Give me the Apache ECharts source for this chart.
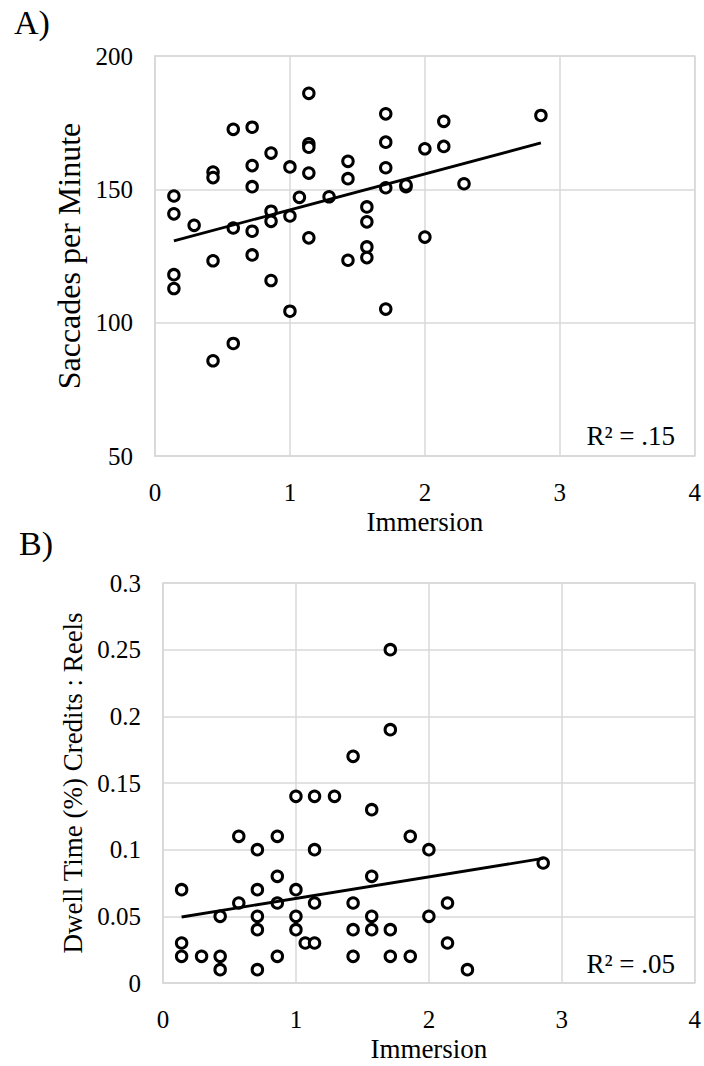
<!DOCTYPE html>
<html lang="en">
  <head>
    <meta charset="UTF-8" />
    <title>Immersion scatter plots</title>
    <script src="https://cdn.jsdelivr.net/npm/echarts@6/dist/echarts.min.js"></script>
    <style>
      body { margin: 0; background: #fff; }
    </style>
  </head>
  <body>
    <div id="main" style="width: 704px; height: 1066px"></div>
    <script type="text/javascript">
      // Panel A: immersion vs saccades per minute
      const immersionA = [
        1.14, 0.58, 0.72, 1.14, 1.14, 0.86, 0.72, 1.0, 1.14, 0.43, 0.43, 0.72, 0.14,
        1.07, 1.29, 0.14, 0.86, 0.86, 1.0, 0.29, 0.58, 0.72, 1.14, 0.43, 0.72, 0.14,
        0.14, 0.86, 1.0, 0.58, 0.43, 1.71, 2.14, 2.86, 1.71, 2.0, 2.14, 1.43, 1.43,
        1.71, 1.71, 1.86, 1.86, 2.29, 1.57, 1.57, 1.57, 1.57, 1.43, 2.0, 1.71
      ];
      const saccades = [
        186, 172.5, 173.3, 167.1, 165.8, 163.6, 158.9, 158.4, 156.1, 156.5, 154.4, 151,
        147.5, 147, 147.2, 140.8, 141.8, 138, 140, 136.5, 135.5, 134.3, 131.8, 123.2,
        125.4, 118, 112.8, 115.8, 104.3, 92.2, 85.7, 178.3, 175.5, 177.7, 167.7, 165.2,
        166.1, 160.5, 154, 158.1, 150.6, 151, 151.6, 152.1, 143.4, 137.8, 128.4, 124.4,
        123.4, 132.1, 105.1
      ];
      const trendA = [[0.14, 130.7], [2.86, 167.4]];

      // Panel B: immersion vs dwell time on credits : reels
      const immersionB = [
        1.0, 1.14, 1.29, 0.57, 0.86, 0.71, 1.14, 0.86, 0.14, 0.71, 1.0, 0.57, 0.86,
        1.14, 0.43, 0.71, 1.0, 0.71, 1.0, 1.07, 1.14, 0.14, 0.14, 0.29, 0.43, 0.86,
        0.43, 0.71, 1.71, 1.71, 1.43, 1.57, 1.86, 2.0, 2.86, 1.57, 1.43, 2.14, 1.57,
        2.0, 1.43, 1.57, 1.71, 2.14, 1.43, 1.71, 1.86, 2.29
      ];
      const dwellTime = [
        0.14, 0.14, 0.14, 0.11, 0.11, 0.1, 0.1, 0.08, 0.07, 0.07, 0.07, 0.06, 0.06,
        0.06, 0.05, 0.05, 0.05, 0.04, 0.04, 0.03, 0.03, 0.03, 0.02, 0.02, 0.02, 0.02,
        0.01, 0.01, 0.25, 0.19, 0.17, 0.13, 0.11, 0.1, 0.09, 0.08, 0.06, 0.06, 0.05,
        0.05, 0.04, 0.04, 0.04, 0.03, 0.02, 0.02, 0.02, 0.01
      ];
      const trendB = [[0.14, 0.0495], [2.86, 0.0935]];

      const panelLabels = ["A)", "B)"];
      const r2Labels = ["R\u00b2 = .15", "R\u00b2 = .05"];

      const font = "Liberation Serif";
      const gridColor = "#d9d9d9";
      const zip = (xs, ys) => xs.map((x, i) => [x, ys[i]]);

      let myChart = echarts.init(document.getElementById("main"), null, { renderer: "svg" });

      function xAxisFor(gridIndex) {
        return {
          gridIndex: gridIndex,
          type: "value",
          min: 0,
          max: 4,
          interval: 1,
          name: "Immersion",
          nameLocation: "middle",
          nameGap: 52,
          nameTextStyle: { fontFamily: font, fontSize: 27, color: "#000" },
          axisLine: { lineStyle: { color: gridColor, width: 1.5 } },
          axisTick: { show: false },
          axisLabel: { fontFamily: font, fontSize: 25, color: "#000", margin: 24 },
          splitLine: { lineStyle: { color: gridColor, width: 1.5 } }
        };
      }

      function yAxisFor(gridIndex, min, max, interval, name, gap, nameSize) {
        return {
          gridIndex: gridIndex,
          type: "value",
          min: min,
          max: max,
          interval: interval,
          name: name,
          nameLocation: "middle",
          nameGap: gap,
          nameTextStyle: { fontFamily: font, fontSize: nameSize, color: "#000" },
          axisLine: { show: true, lineStyle: { color: gridColor, width: 1.5 } },
          axisTick: { show: false },
          axisLabel: { fontFamily: font, fontSize: 25, color: "#000", margin: 22 },
          splitLine: { lineStyle: { color: gridColor, width: 1.5 } }
        };
      }

      function scatterFor(axisIndex, data) {
        return {
          type: "scatter",
          xAxisIndex: axisIndex,
          yAxisIndex: axisIndex,
          data: data,
          symbol: "circle",
          symbolSize: 10.5,
          itemStyle: { color: "#fff", borderColor: "#000", borderWidth: 3, opacity: 1 },
          z: 3
        };
      }

      function trendFor(axisIndex, data) {
        return {
          type: "line",
          xAxisIndex: axisIndex,
          yAxisIndex: axisIndex,
          data: data,
          showSymbol: false,
          lineStyle: { color: "#000", width: 2.8 },
          z: 4
        };
      }

      let options = {
        backgroundColor: "#fff",
        animation: false,
        title: [
          { text: panelLabels[0], left: 9, top: 0, textStyle: { fontFamily: font, fontSize: 34, fontWeight: "normal", color: "#000" } },
          { text: panelLabels[1], left: 14, top: 521, textStyle: { fontFamily: font, fontSize: 34, fontWeight: "normal", color: "#000" } }
        ],
        grid: [
          { left: 155, top: 56, width: 542, height: 400, show: true, borderColor: gridColor, borderWidth: 1.5 },
          { left: 163, top: 583, width: 534, height: 400, show: true, borderColor: gridColor, borderWidth: 1.5 }
        ],
        xAxis: [xAxisFor(0), xAxisFor(1)],
        yAxis: [
          yAxisFor(0, 50, 200, 50, "Saccades per Minute", 62, 32),
          yAxisFor(1, 0, 0.3, 0.05, "Dwell Time (%) Credits : Reels", 59, 27)
        ],
        graphic: [
          { type: "text", right: 29, top: 422, style: { text: r2Labels[0], font: "27px " + font, fill: "#000" } },
          { type: "text", right: 29, top: 950, style: { text: r2Labels[1], font: "27px " + font, fill: "#000" } }
        ],
        series: [
          scatterFor(0, zip(immersionA, saccades)),
          trendFor(0, trendA),
          scatterFor(1, zip(immersionB, dwellTime)),
          trendFor(1, trendB)
        ]
      };

      myChart.setOption(options);
    </script>
  </body>
</html>
